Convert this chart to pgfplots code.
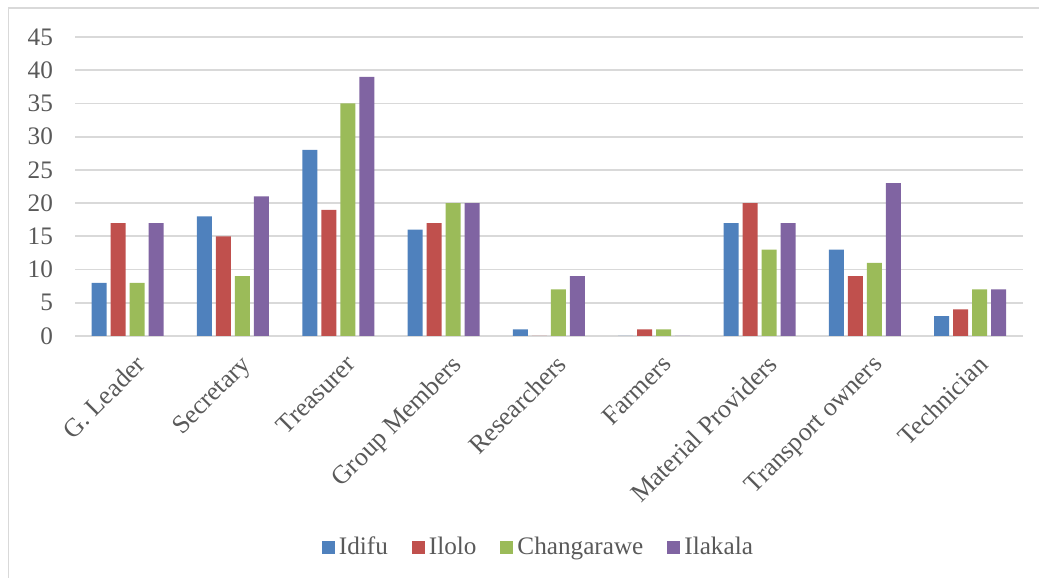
\documentclass[border=0pt]{standalone}
\usepackage{fontspec}
\setmainfont{Liberation Serif}
\usepackage{pgfplots}
\pgfplotsset{compat=1.18}
\definecolor{cA}{HTML}{4F81BD}
\definecolor{cB}{HTML}{C0504D}
\definecolor{cC}{HTML}{9BBB59}
\definecolor{cD}{HTML}{8064A2}
\definecolor{txt}{HTML}{595959}
\definecolor{gridc}{HTML}{D9D9D9}
\begin{document}
\begin{tikzpicture}[x=1pt,y=1pt]
\useasboundingbox (0,0) rectangle (519.5,289);
\draw[gridc, line width=0.75pt] (4.25,-5) -- (4.25,285) -- (530,285);
\begin{axis}[
  at={(37.5pt,121pt)}, anchor=south west,
  scale only axis, width=473.9pt, height=149.5pt,
  ybar=2pt, bar width=7.5pt,
  xmin=-0.5, xmax=8.5, ymin=0, ymax=45,
  ytick={0,5,...,45},
  xtick={0,...,8},
  xticklabels={G. Leader, Secretary, Treasurer, Group Members, Researchers, Farmers, Material Providers, Transport owners, Technician},
  xticklabel style={rotate=45, anchor=north east, xshift=-0.5pt, yshift=-5pt, font=\rmfamily\fontsize{13}{15}\selectfont},
  yticklabel style={xshift=-7.5pt},
  major tick length=0pt,
  axis line style={draw=none},
  ymajorgrids, major grid style={gridc, line width=0.9pt},
  /pgf/number format/assume math mode=true,
  ticklabel style={font=\rmfamily\fontsize{12.6}{15}\selectfont, text=txt},
  legend style={at={(0.49,-0.706)}, anchor=center, draw=none, fill=none,
    legend columns=4, font=\rmfamily\fontsize{12.6}{15}\selectfont, text=txt,
    /tikz/every even column/.append style={column sep=10pt},
    legend cell align=left, inner sep=0pt},
  legend image code/.code={\fill[#1] (0pt,-3.25pt) rectangle (6.5pt,3.25pt);},
]
\addplot[fill=cA, draw=none] coordinates {(0,8) (1,18) (2,28) (3,16) (4,1) (5,0) (6,17) (7,13) (8,3)};
\addplot[fill=cB, draw=none] coordinates {(0,17) (1,15) (2,19) (3,17) (4,0) (5,1) (6,20) (7,9) (8,4)};
\addplot[fill=cC, draw=none] coordinates {(0,8) (1,9) (2,35) (3,20) (4,7) (5,1) (6,13) (7,11) (8,7)};
\addplot[fill=cD, draw=none] coordinates {(0,17) (1,21) (2,39) (3,20) (4,9) (5,0) (6,17) (7,23) (8,7)};
\legend{Idifu, Ilolo, Changarawe, Ilakala}
\end{axis}
\end{tikzpicture}
\end{document}
